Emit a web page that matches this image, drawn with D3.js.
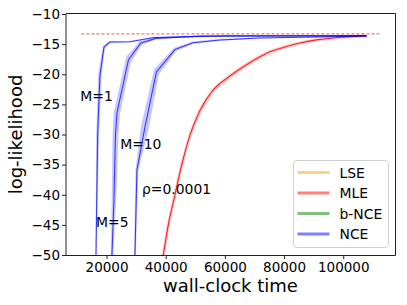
<!DOCTYPE html>
<html>
<head>
<meta charset="utf-8">
<script src="https://cdn.jsdelivr.net/npm/d3@7"></script>
<style>
  html, body { margin: 0; padding: 0; background: #fff; }
  svg { display: block; font-family: "DejaVu Sans", sans-serif; }
</style>
</head>
<body>
<svg id="chart" width="407" height="305"></svg>
<script>
// ---------- data ----------
const xTicks = [20000, 40000, 60000, 80000, 100000];
const yTicks = [-50, -45, -40, -35, -30, -25, -20, -15, -10];

// NCE, M=1
const nceM1Time = [15800, 16430, 17000, 17780, 19130, 21160, 27920, 36000, 60000, 107900];
const nceM1LL   = [-60, -50, -30.1, -20.1, -15.5, -14.65, -14.6, -13.9, -13.65, -13.6];
const nceM1SdT  = [100, 150, 500, 600, 350, 100, 0, 0, 0, 0];
const nceM1SdL  = [0, 0, 0, 0.2, 0.2, 0.15, 0.12, 0.1, 0.1, 0.1];

// NCE, M=5
const nceM5Time = [21500, 21830, 22510, 23020, 23520, 27410, 31630, 36700, 51580, 107900];
const nceM5LL   = [-60, -50, -40.9, -30.1, -26.4, -17.6, -14.8, -14.05, -13.65, -13.6];
const nceM5SdT  = [300, 450, 750, 1000, 1100, 800, 350, 0, 0, 0];
const nceM5SdL  = [0, 0, 0, 0, 0, 0.45, 0.3, 0.2, 0.12, 0.1];

// NCE, M=10
const nceM10Time = [29300, 29600, 30280, 32990, 36870, 43130, 49210, 58330, 71850, 99900, 107900];
const nceM10LL   = [-60, -50, -35.9, -28.75, -19.6, -15.9, -14.77, -14.32, -13.98, -13.73, -13.65];
const nceM10SdT  = [250, 300, 500, 1400, 800, 350, 0, 0, 0, 0, 0];
const nceM10SdL  = [0, 0, 0, 0, 0.45, 0.3, 0.2, 0.15, 0.1, 0.1, 0.1];

// MLE
const mleTime = [38500, 39180, 40870, 43130, 45390, 48200, 51580, 56080, 60600, 66220, 71850, 75230, 79730, 85370, 91020, 96500, 102300, 107900];
const mleLL   = [-52, -50, -45, -40, -35.1, -30.1, -26.0, -22.6, -20.7, -18.75, -17.1, -16.25, -15.55, -14.8, -14.3, -13.98, -13.77, -13.6];
const mleSdT  = 450;
const mleSdL  = 0.25;

// reference level (dashed)
const refTime = [11500, 112500];
const refLL   = [-13.3, -13.3];

const legendLabels = ["LSE", "MLE", "b-NCE", "NCE"];
const legendColors = ["rgba(255,165,0,0.5)", "rgba(255,0,0,0.5)", "rgba(0,128,0,0.5)", "rgba(0,0,255,0.5)"];

const annotations = [
  { text: "M=1", t: 11130, ll: -24.4 },
  { text: "M=10", t: 24600, ll: -32.4 },
  { text: "ρ=0.0001", t: 32000, ll: -39.8 },
  { text: "M=5", t: 16450, ll: -45.3 }
];

// ---------- layout ----------
const L = 66, R = 395, T = 14, B = 255;
const svg = d3.select("#chart");
const x = d3.scaleLinear().domain([6300, 117500]).range([L, R]);
const y = d3.scaleLinear().domain([-50, -10]).range([B, T]);

svg.append("defs").append("clipPath").attr("id", "clip")
  .append("rect").attr("x", L).attr("y", T).attr("width", R - L).attr("height", B - T);

const plot = svg.append("g").attr("clip-path", "url(#clip)");

function bandPoly(time, ll, sdT, sdL) {
  const n = time.length;
  const st = i => Array.isArray(sdT) ? sdT[i] : sdT;
  const sl = i => Array.isArray(sdL) ? sdL[i] : sdL;
  const upper = d3.range(n).map(i => [x(time[i] - st(i)), y(ll[i] + sl(i))]);
  const lower = d3.range(n).map(i => [x(time[i] + st(i)), y(ll[i] - sl(i))]).reverse();
  return upper.concat(lower);
}

function drawSeries(time, ll, sdT, sdL, fill, stroke, curve) {
  const poly = bandPoly(time, ll, sdT, sdL);
  plot.append("path")
    .attr("d", d3.line().curve(d3.curveLinearClosed)(poly))
    .attr("fill", fill).attr("stroke", "none");
  const pts = time.map((t, i) => [t, ll[i]]);
  plot.append("path")
    .attr("d", d3.line().x(d => x(d[0])).y(d => y(d[1])).curve(curve)(pts))
    .attr("fill", "none").attr("stroke", stroke).attr("stroke-width", 1.1)
    .attr("stroke-linejoin", "round");
}

// MLE (drawn first)
drawSeries(mleTime, mleLL, mleSdT, mleSdL, "rgba(255,0,0,0.2)", "rgba(255,0,0,0.85)", d3.curveMonotoneX);
// NCE
drawSeries(nceM1Time, nceM1LL, nceM1SdT, nceM1SdL, "rgba(0,0,255,0.22)", "rgba(0,0,255,0.72)", d3.curveLinear);
drawSeries(nceM5Time, nceM5LL, nceM5SdT, nceM5SdL, "rgba(0,0,255,0.22)", "rgba(0,0,255,0.72)", d3.curveLinear);
drawSeries(nceM10Time, nceM10LL, nceM10SdT, nceM10SdL, "rgba(0,0,255,0.22)", "rgba(0,0,255,0.72)", d3.curveLinear);

// dashed reference line
plot.append("path")
  .attr("d", d3.line().x(d => x(d[0])).y(d => y(d[1]))(refTime.map((t, i) => [t, refLL[i]])))
  .attr("fill", "none").attr("stroke", "rgba(255,0,0,0.7)").attr("stroke-width", 1)
  .attr("stroke-dasharray", "3,2");

// annotations
annotations.forEach(a => {
  svg.append("text").attr("x", x(a.t)).attr("y", y(a.ll))
    .attr("font-size", 13.9).attr("fill", "#000").text(a.text);
});

// axes
const fmtY = d => d < 0 ? "\u2212" + Math.abs(d) : String(d);
const xAxis = svg.append("g").attr("transform", `translate(0,${B})`)
  .call(d3.axisBottom(x).tickValues(xTicks).tickSize(4).tickPadding(3).tickFormat(d3.format("d")));
const yAxis = svg.append("g").attr("transform", `translate(${L},0)`)
  .call(d3.axisLeft(y).tickValues(yTicks).tickSize(4).tickPadding(2).tickFormat(fmtY));
[xAxis, yAxis].forEach(g => {
  g.select(".domain").remove();
  g.selectAll(".tick line").attr("stroke", "#222");
  g.selectAll(".tick text").attr("font-size", 13.5).attr("fill", "#000")
    .attr("font-family", "DejaVu Sans, sans-serif");
});

// spines
svg.append("line").attr("x1", L).attr("x2", L).attr("y1", T).attr("y2", B + 0.5).attr("stroke", "#222").attr("stroke-width", 1);
svg.append("line").attr("x1", L).attr("x2", R + 0.5).attr("y1", T - 0.5).attr("y2", T - 0.5).attr("stroke", "#222");
svg.append("line").attr("x1", L).attr("x2", R + 0.5).attr("y1", B + 0.5).attr("y2", B + 0.5).attr("stroke", "#222");
svg.append("line").attr("x1", R + 0.5).attr("x2", R + 0.5).attr("y1", T - 0.5).attr("y2", B + 0.5).attr("stroke", "#222");

// axis labels
svg.append("text").attr("x", (L + R) / 2).attr("y", 291.5).attr("text-anchor", "middle")
  .attr("font-size", 18).attr("fill", "#000").text("wall-clock time");
svg.append("text").attr("transform", `translate(21.5,${(T + B) / 2}) rotate(-90)`)
  .attr("text-anchor", "middle").attr("font-size", 18).attr("fill", "#000").text("log-likelihood");

// legend
const lg = svg.append("g");
lg.append("rect").attr("x", 293.5).attr("y", 160.5).attr("width", 95).attr("height", 87).attr("rx", 3)
  .attr("fill", "rgba(255,255,255,0.8)").attr("stroke", "#d0d0d0").attr("stroke-width", 1);
const rowY = [172.5, 193, 213.5, 234];
legendLabels.forEach((lab, i) => {
  lg.append("line").attr("x1", 297.5).attr("x2", 329.5).attr("y1", rowY[i]).attr("y2", rowY[i])
    .attr("stroke", legendColors[i]).attr("stroke-width", 3);
  lg.append("text").attr("x", 339.5).attr("y", rowY[i] + 5).attr("font-size", 13.9).attr("fill", "#000").text(lab);
});
</script>
</body>
</html>
